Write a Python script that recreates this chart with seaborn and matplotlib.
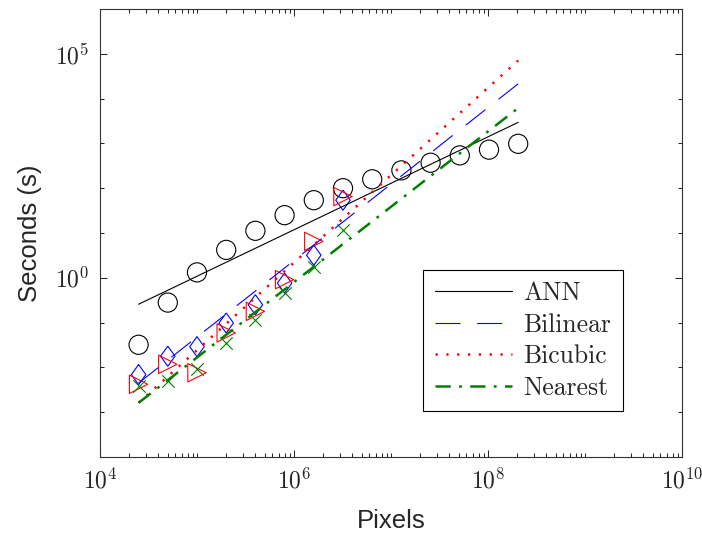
import matplotlib
matplotlib.use("Agg")
import matplotlib.pyplot as plt
import seaborn as sns
import pandas as pd
from matplotlib.ticker import FixedLocator, FixedFormatter, NullFormatter

# ---------------- data ----------------
pixels_ann = [2.5e4, 5e4, 1e5, 2e5, 4e5, 8e5, 1.6e6, 3.2e6, 6.4e6, 1.28e7,
              2.56e7, 5.12e7, 1.024e8, 2.048e8]
ann_time = [0.032, 0.28, 1.32, 4.2, 11.2, 25.0, 54.0, 100.0, 158.0, 250.0,
            370.0, 540.0, 725.0, 980.0]

pixels_interp = [2.5e4, 5e4, 1e5, 2e5, 4e5, 8e5, 1.6e6, 3.2e6]
bilinear_time = [0.0069, 0.0178, 0.029, 0.098, 0.25, 0.76, 3.2, 54.0]
bicubic_time = [0.0042, 0.0117, 0.0076, 0.059, 0.178, 0.91, 6.5, 65.0]
nearest_time = [0.0039, 0.0050, 0.0093, 0.035, 0.117, 0.46, 1.78, 11.7]

fit_pixels = [2.5e4, 2.048e8]
ann_fit = [0.257, 2951.0]
bilinear_fit = [0.00447, 21380.0]
bicubic_fit = [0.00162, 70795.0]
nearest_fit = [0.00162, 6166.0]

series_names = ["ANN", "Bilinear", "Bicubic", "Nearest"]

xtick_vals = [1e4, 1e6, 1e8, 1e10]
xtick_labels = [r"$10^{4}$", r"$10^{6}$", r"$10^{8}$", r"$10^{10}$"]
ytick_vals = [1e0, 1e5]
ytick_labels = [r"$10^{0}$", r"$10^{5}$"]
ytick_minor = [1e-4, 1e-3, 1e-2, 1e-1, 1e1, 1e2, 1e3, 1e4, 1e6]

# ---------------- style ----------------
sns.set_theme(style="white")
plt.rcParams["font.family"] = ["Liberation Sans", "DejaVu Sans"]
plt.rcParams["mathtext.fontset"] = "cm"
plt.rcParams["lines.scale_dashes"] = False

fig = plt.figure(figsize=(7.02, 5.33), dpi=100)
ax = fig.add_axes([100 / 702, 76 / 533, 582 / 702, 448 / 533])

colors = ["black", "blue", "red", "green"]

# fit lines
fits = [ann_fit, bilinear_fit, bicubic_fit, nearest_fit]
styles = [
    dict(linestyle="-", linewidth=0.8),
    dict(linestyle=(0, (18, 12)), linewidth=0.8),
    dict(linestyle=(0, (1.6, 6.2)), linewidth=1.8),
    dict(linestyle=(0, (11, 6, 2, 6)), linewidth=1.8),
]
lines = []
for name, fit, c, st in zip(series_names, fits, colors, styles):
    df = pd.DataFrame({"x": fit_pixels, "y": fit})
    n_before = len(ax.lines)
    sns.lineplot(data=df, x="x", y="y", color=c, ax=ax, label=name, **st)
    lines.append(ax.lines[n_before])

# markers
diamond = [(0, 1), (0.72, 0), (0, -1), (-0.72, 0), (0, 1)]
mk = [
    (pixels_ann, ann_time, "o", 190, "black"),
    (pixels_interp, bilinear_time, diamond, 210, "blue"),
    (pixels_interp, bicubic_time, ">", 175, "red"),
    (pixels_interp, nearest_time, "x", 80, "green"),
]
for xs, ys, m, s, c in mk:
    df = pd.DataFrame({"x": xs, "y": ys})
    n_before = len(ax.collections)
    sns.scatterplot(data=df, x="x", y="y", marker=m, s=s, ax=ax, color=c,
                    linewidth=0.8, legend=False)
    coll = ax.collections[n_before]
    if m != "x":
        coll.set_facecolor("none")
    coll.set_edgecolor(c)
    coll.set_linewidth(0.8)

ax.set_xscale("log")
ax.set_yscale("log")
ax.set_xlim(1e4, 1e10)
ax.set_ylim(1e-4, 1e6)

x_minor = [k * 10.0 ** d for d in range(4, 10) for k in range(1, 10)
           if not (k == 1 and d % 2 == 0)]
ax.xaxis.set_major_locator(FixedLocator(xtick_vals))
ax.xaxis.set_major_formatter(FixedFormatter(xtick_labels))
ax.xaxis.set_minor_locator(FixedLocator(x_minor))
ax.xaxis.set_minor_formatter(NullFormatter())
ax.yaxis.set_major_locator(FixedLocator(ytick_vals))
ax.yaxis.set_major_formatter(FixedFormatter(ytick_labels))
ax.yaxis.set_minor_locator(FixedLocator(ytick_minor))
ax.yaxis.set_minor_formatter(NullFormatter())

ax.tick_params(which="both", direction="in", top=True, right=True,
               bottom=True, left=True,
               color="#262626", width=0.75, labelsize=17, labelcolor="#262626")
ax.tick_params(which="major", length=5, pad=8)
ax.tick_params(which="minor", length=3)

for sp in ax.spines.values():
    sp.set_color("#333333")
    sp.set_linewidth(0.8)

ax.set_xlabel("Pixels", fontsize=18.5, color="#262626", labelpad=11)
ax.set_ylabel("Seconds (s)", fontsize=18.5, color="#262626", labelpad=9)

leg = ax.legend(handles=lines, labels=series_names, loc="upper left",
                bbox_to_anchor=(0.555, 0.417), prop={"family": "cmr10", "size": 18.5},
                frameon=True, fancybox=False, framealpha=1, edgecolor="black",
                handlelength=3.0, labelspacing=0.3, borderpad=0.45,
                handletextpad=0.45, borderaxespad=0)
leg.get_frame().set_linewidth(0.8)

fig.savefig("out.png", dpi=100)
